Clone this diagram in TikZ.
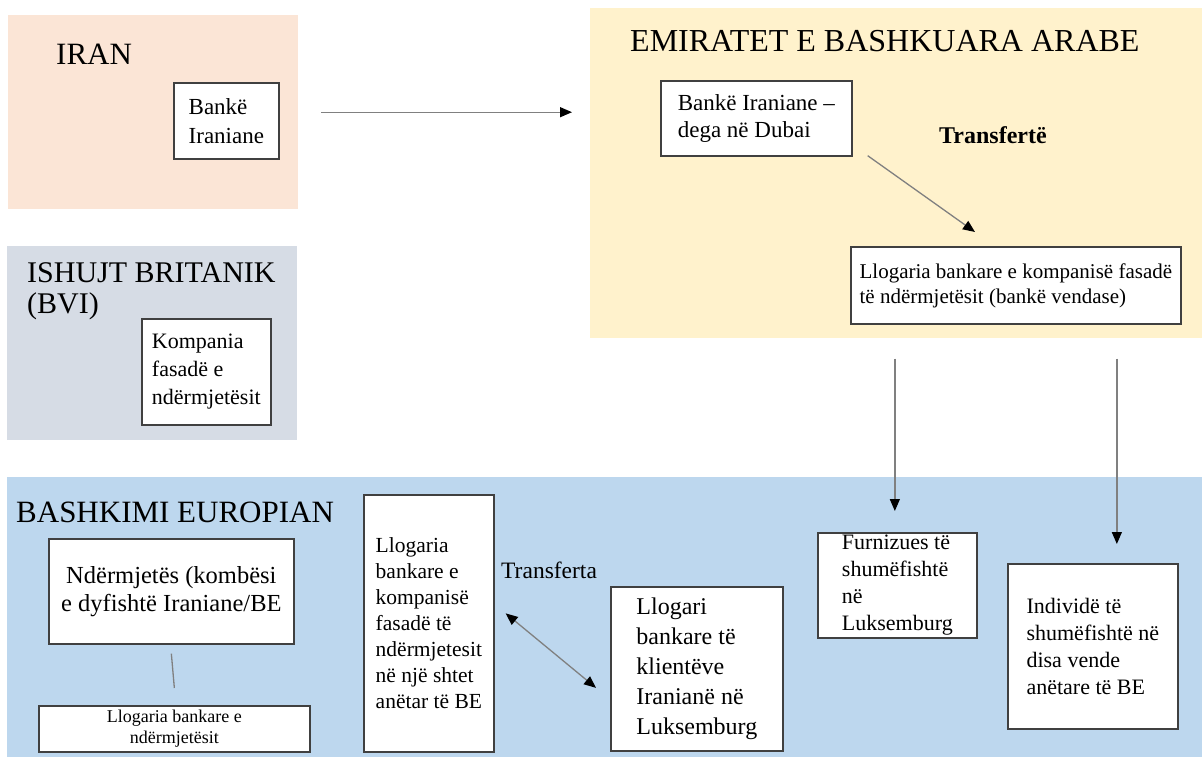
\documentclass[tikz,border=0pt]{standalone}
\usepackage{fontspec}
\setmainfont{LiberationSerif}[Extension=.ttf,UprightFont=*-Regular,BoldFont=*-Bold,ItalicFont=*-Italic,BoldItalicFont=*-BoldItalic]
\usetikzlibrary{arrows.meta}
\definecolor{iranfill}{HTML}{FBE5D6}
\definecolor{uaefill}{HTML}{FFF2CC}
\definecolor{bvifill}{HTML}{D6DCE5}
\definecolor{eufill}{HTML}{BDD7EE}
\definecolor{boxline}{HTML}{404040}
\definecolor{arrline}{HTML}{808080}
\begin{document}
\begin{tikzpicture}[x=1pt,y=-1pt,
  region/.style={fill=#1,draw=none,inner sep=0pt,anchor=north west},
  lab/.style={inner sep=0pt,anchor=base west,font=\fontsize{31}{32}\selectfont,text=black},
  box/.style={draw=boxline,line width=1.7pt,fill=white,inner sep=0pt,anchor=north west,align=left},
  fs/.style 2 args={font=\fontsize{#1}{#2}\selectfont},
  tip/.tip={Triangle[length=12pt,width=10pt,color=black]},
  flow/.style={draw=arrline,line width=1.3pt,-tip},
  bothflow/.style={draw=arrline,line width=1.3pt,tip-tip},
  plain/.style={draw=arrline,line width=1.3pt},
]
\useasboundingbox (0,0) rectangle (1202,757);
% regions
\node[region=iranfill,minimum width=290,minimum height=194] (iran) at (8,15) {};
\node[region=uaefill,minimum width=612,minimum height=330] (uae) at (590,8) {};
\node[region=bvifill,minimum width=290,minimum height=194] (bvi) at (7,246) {};
\node[region=eufill,minimum width=1195,minimum height=280] (eu) at (7,477) {};
% region labels
\node[lab] (iranlab) at (56,65) {IRAN};
\node[lab,font=\fontsize{32}{33}\selectfont] (uaelab) at (630,52) {EMIRATET E BASHKUARA ARABE};
\node[lab,anchor=north west,align=left,font=\fontsize{30}{31}\selectfont] (bvilab) at (27,262) {ISHUJT BRITANIK\\(BVI)};
\node[lab] (eulab) at (16,522) {BASHKIMI EUROPIAN};
% boxes
\node[box,fs={23}{29},minimum width=105,minimum height=76] (bank) at (173,82) {Bankë\\Iraniane};
\node[box,fs={23}{27},minimum width=191,minimum height=75] (dubai) at (660,80) {Bankë Iraniane –\\dega në Dubai};
\node[box,fs={21}{25},minimum width=330,minimum height=77] (ulla) at (850,246) {Llogaria bankare e kompanisë fasadë\\të ndërmjetësit (bankë vendase)};
\node[box,fs={22}{28},minimum width=129,minimum height=106] (komp) at (141,318) {Kompania\\fasadë e\\ndërmjetësit};
\node[box,fs={24.5}{28},minimum width=245,minimum height=105,align=center] (ndr) at (48,538) {Ndërmjetës (kombësi\\e dyfishtë Iraniane/BE};
\node[box,fs={18}{21},minimum width=271,minimum height=46,align=center] (llnd) at (38,705) {Llogaria bankare e\\ndërmjetësit};
\node[box,fs={21.5}{26},minimum width=130,minimum height=257] (tall) at (363,494) {Llogaria\\bankare e\\kompanisë\\fasadë të\\ndërmjetesit\\në një shtet\\anëtar të BE};
\node[box,fs={24}{30},minimum width=172,minimum height=164] (klient) at (610,586) {Llogari\\bankare të\\klientëve\\Iranianë në\\Luksemburg};
\node[box,fs={22}{27},minimum width=159,minimum height=105] (furn) at (817,532) {Furnizues të\\shumëfishtë\\në\\Luksemburg};
\node[box,fs={22}{27},minimum width=170,minimum height=165] (indiv) at (1007,563) {Individë të\\shumëfishtë në\\disa vende\\anëtare të BE};
% free labels
\node[inner sep=0pt,anchor=base west,font=\fontsize{24}{26}\selectfont\bfseries] (transfer1) at (939,143) {Transfertë};
\node[inner sep=0pt,anchor=base west,font=\fontsize{23.5}{26}\selectfont] (transfer2) at (501,578) {Transferta};
% connectors
\draw[flow] ([xshift=23]iran.east) -- ([xshift=-18]iran.east -| uae.west);
\draw[flow] ([xshift=15,yshift=1]dubai.south east) -- ([xshift=125,yshift=14]ulla.north west);
\draw[flow] ([xshift=-121,yshift=-34]ulla.south) -- ([xshift=-2.5,yshift=21]furn.north);
\draw[flow] ([xshift=101,yshift=-34]ulla.south) -- ([xshift=24,yshift=19]indiv.north);
\draw[plain] ([yshift=-9]ndr.south) -- ([yshift=17]llnd.north);
\draw[bothflow] ([xshift=11,yshift=10]tall.east) -- ([xshift=-14,yshift=-19]klient.west);
\end{tikzpicture}
\end{document}
